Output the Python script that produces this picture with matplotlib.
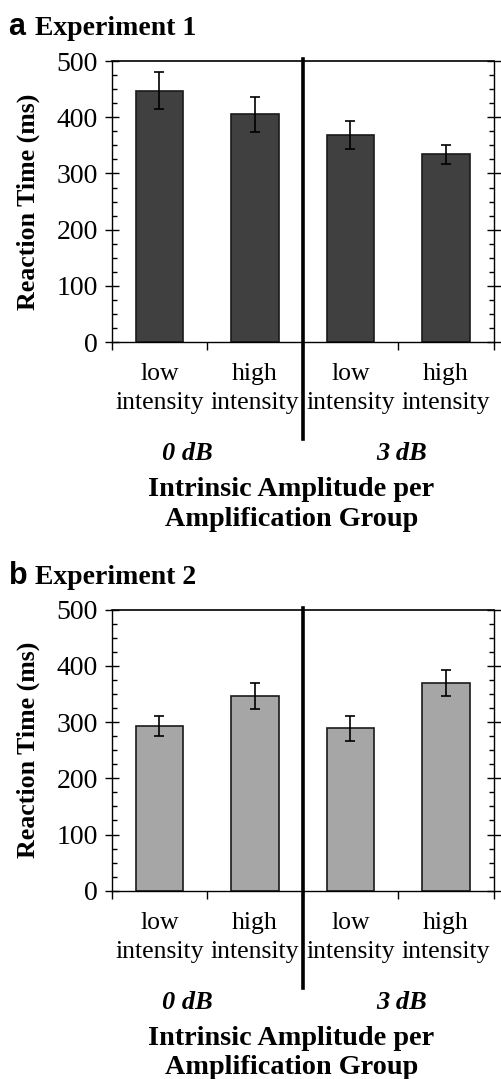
import matplotlib.pyplot as plt
import numpy as np
from matplotlib.ticker import MultipleLocator, FixedLocator
import matplotlib.transforms as mtransforms

plt.rcParams['font.family'] = ['Liberation Serif', 'DejaVu Serif']

# data
conditions = ['low\nintensity', 'high\nintensity', 'low\nintensity', 'high\nintensity']
groups = ['0 dB', '3 dB']
exp1_rt = [447, 405, 368, 334]
exp1_err = [33, 31, 25, 17]
exp2_rt = [293, 346, 289, 369]
exp2_err = [18, 23, 22, 23]

fig = plt.figure(figsize=(5.01, 10.79), dpi=100)

ax_a = fig.add_axes([0.223, 0.683, 0.7625, 0.2604])
ax_b = fig.add_axes([0.223, 0.1745, 0.7625, 0.2604])


def draw_panel(ax, vals, errs, color, letter, title):
    x = np.arange(len(vals))
    ax.bar(x, vals, width=0.5, color=color, edgecolor='#1a1a1a', linewidth=1.2, zorder=2)
    ax.errorbar(x, vals, yerr=errs, fmt='none', ecolor='black', elinewidth=1.2,
                capsize=3.8, capthick=1.2, zorder=3)
    ax.set_xlim(-0.5, 3.5)
    ax.set_ylim(0, 500)

    # thick divider between amplification groups
    trans = mtransforms.blended_transform_factory(ax.transData, ax.transAxes)
    ax.plot([1.5, 1.5], [-0.345, 1.007], transform=trans, color='black',
            linewidth=2.6, clip_on=False, zorder=4)

    for s in ['left', 'right', 'top', 'bottom']:
        ax.spines[s].set_linewidth(1.0)
    ax.spines['top'].set_linewidth(1.2)

    ax.yaxis.set_major_locator(MultipleLocator(100))
    ax.yaxis.set_minor_locator(MultipleLocator(25))
    ax.tick_params(axis='y', which='major', direction='inout', length=10, width=1.0,
                   labelsize=20, pad=5, right=True)
    ax.tick_params(axis='y', which='minor', direction='in', length=3.8, width=1.0, right=True)

    ax.set_xticks(x)
    ax.set_xticklabels(conditions, linespacing=1.42)
    ax.xaxis.set_minor_locator(FixedLocator([-0.5, 0.5, 1.5, 2.5, 3.5]))
    ax.tick_params(axis='x', which='major', length=0, labelsize=18.5, pad=15)
    ax.tick_params(axis='x', which='minor', direction='out', length=5.5, width=1.0)

    ax.set_ylabel('Reaction Time (ms)', fontsize=18.6, fontweight='bold', labelpad=12)

    tr = mtransforms.blended_transform_factory(ax.transData, ax.transAxes)
    ax.text(0.29, -0.398, groups[0], transform=tr, ha='center', va='center',
            fontsize=19, fontweight='bold', fontstyle='italic')
    ax.text(2.53, -0.398, groups[1], transform=tr, ha='center', va='center',
            fontsize=19, fontweight='bold', fontstyle='italic')
    ax.text(0.47, -0.578, 'Intrinsic Amplitude per\nAmplification Group',
            transform=ax.transAxes, ha='center', va='center', fontsize=20.3,
            fontweight='bold', linespacing=1.22)

    ax.text(-0.27, 1.12, letter, transform=ax.transAxes, ha='left', va='center',
            fontsize=22, fontweight='bold', family=['Liberation Sans', 'DejaVu Sans'])
    ax.text(-0.20, 1.115, title, transform=ax.transAxes, ha='left', va='center',
            fontsize=20, fontweight='bold')


draw_panel(ax_a, exp1_rt, exp1_err, '#404040', 'a', 'Experiment 1')
draw_panel(ax_b, exp2_rt, exp2_err, '#a6a6a6', 'b', 'Experiment 2')

fig.savefig('out.png', dpi=100)
